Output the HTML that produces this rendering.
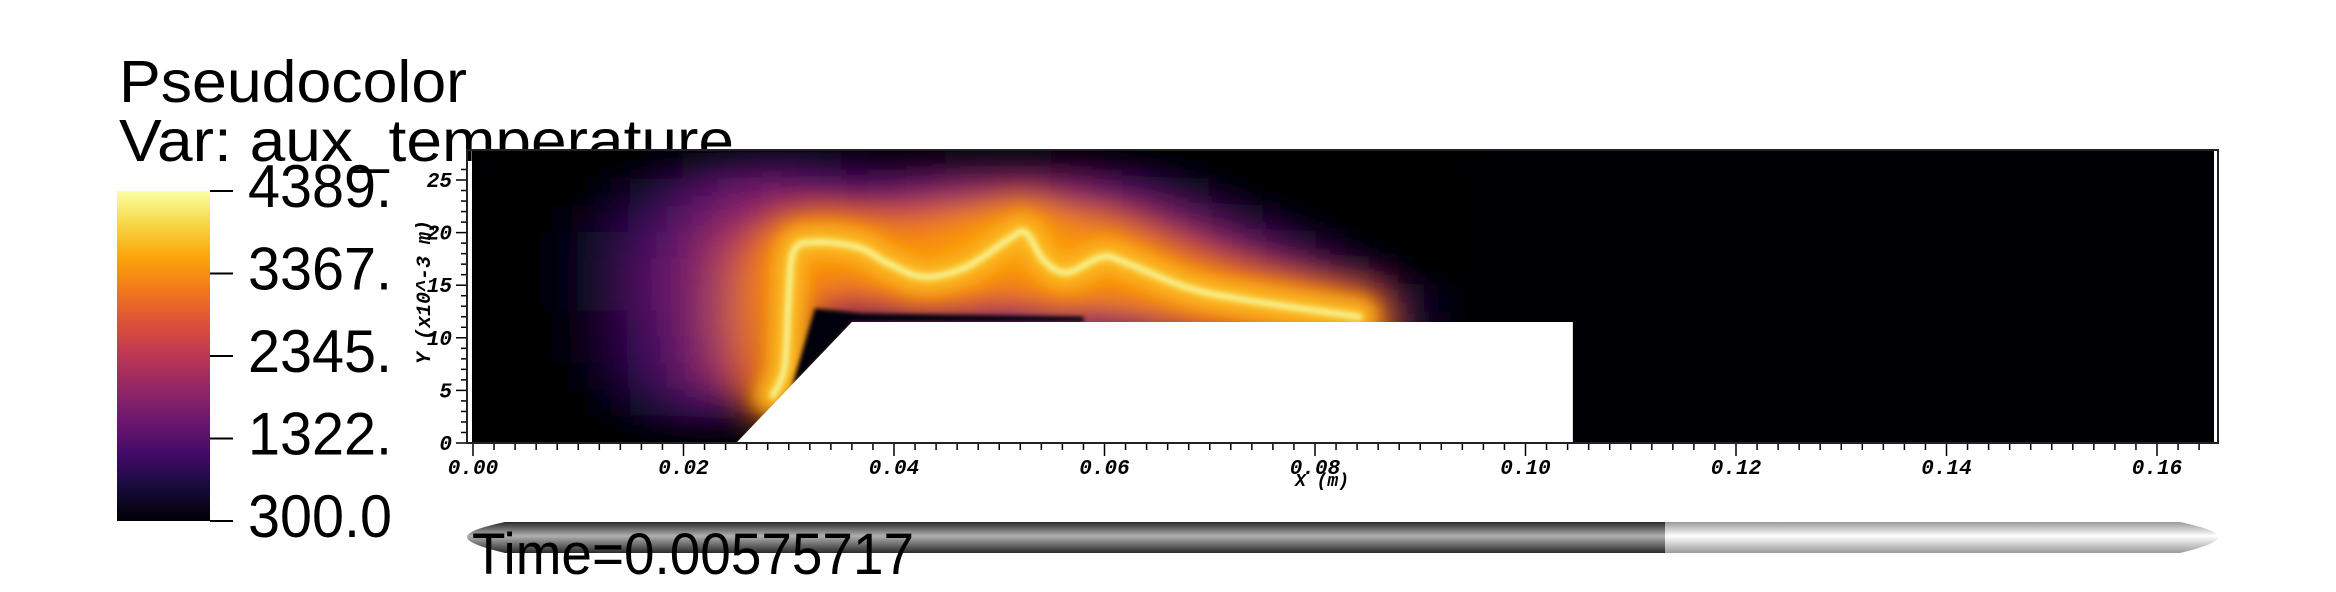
<!DOCTYPE html>
<html><head><meta charset="utf-8"><style>
html,body{margin:0;padding:0;background:#fff;}
svg{display:block;}
</style></head><body>
<svg id="chart" width="2336" height="592" viewBox="0 0 2336 592" xmlns="http://www.w3.org/2000/svg">
<defs>
  <linearGradient id="cbar" x1="0" y1="1" x2="0" y2="0">
    <stop offset="0" stop-color="#000004"/><stop offset="0.1" stop-color="#160b39"/>
    <stop offset="0.2" stop-color="#420a68"/><stop offset="0.3" stop-color="#6a176e"/>
    <stop offset="0.4" stop-color="#932667"/><stop offset="0.5" stop-color="#bc3754"/>
    <stop offset="0.6" stop-color="#dd513a"/><stop offset="0.7" stop-color="#f37819"/>
    <stop offset="0.8" stop-color="#fca50a"/><stop offset="0.9" stop-color="#f6d746"/>
    <stop offset="1" stop-color="#fcffa4"/>
  </linearGradient>
  <linearGradient id="barDark" x1="0" y1="0" x2="0" y2="1">
    <stop offset="0" stop-color="#2a2a2a"/><stop offset="0.45" stop-color="#b0b0b0"/><stop offset="1" stop-color="#2a2a2a"/>
  </linearGradient>
  <linearGradient id="barLight" x1="0" y1="0" x2="0" y2="1">
    <stop offset="0" stop-color="#9a9a9a"/><stop offset="0.45" stop-color="#ffffff"/><stop offset="1" stop-color="#9a9a9a"/>
  </linearGradient>
  <clipPath id="plotClip"><rect x="472" y="151" width="1742" height="292"/></clipPath>
  <filter id="haze" x="-10%" y="-30%" width="120%" height="160%"><feGaussianBlur stdDeviation="28 14"/></filter>
  <filter id="b20" x="-20%" y="-50%" width="140%" height="200%"><feGaussianBlur stdDeviation="16"/></filter>
  <filter id="b8" x="-20%" y="-50%" width="140%" height="200%"><feGaussianBlur stdDeviation="8"/></filter>
  <filter id="b3"><feGaussianBlur stdDeviation="3"/></filter>
  <filter id="b2"><feGaussianBlur stdDeviation="2"/></filter>
</defs>

<text x="119" y="102" font-family="Liberation Sans, sans-serif" font-size="59" textLength="348" lengthAdjust="spacingAndGlyphs">Pseudocolor</text>
<text x="119" y="161" font-family="Liberation Sans, sans-serif" font-size="59" textLength="615" lengthAdjust="spacingAndGlyphs">Var: aux_temperature</text>
<rect x="117" y="191" width="93" height="330" fill="url(#cbar)"/>
<g id="cbarTicks"></g>

<rect x="472" y="151" width="1742" height="292" fill="#000004"/>
<g clip-path="url(#plotClip)">
  <g id="heat" filter="url(#haze)"></g>
  <g id="flame"></g>
  <polygon id="block" fill="#ffffff"/>
</g>
<rect x="467" y="150" width="1751" height="293" fill="none" stroke="#222" stroke-width="2"/>
<g id="axes"></g>
<text x="1322" y="486" text-anchor="middle" font-family="Liberation Mono, monospace" font-weight="bold" font-style="italic" font-size="18">X (m)</text>
<text transform="translate(430,292) rotate(-90)" text-anchor="middle" font-family="Liberation Mono, monospace" font-weight="bold" font-style="italic" font-size="20">Y (x10^-3 m)</text>

<g>
  <path d="M1665,522 L505,522 Q467,530 467,537 Q467,544 505,553 L1665,553 Z" fill="url(#barDark)"/>
  <path d="M1665,522 L2180,522 Q2218,530 2218,537 Q2218,544 2180,553 L1665,553 Z" fill="url(#barLight)"/>
</g>
<text x="472" y="574" font-family="Liberation Sans, sans-serif" font-size="58" textLength="442" lengthAdjust="spacingAndGlyphs">Time=0.00575717</text>
</svg>

<script>
// ---- data ----
const xCenters = [0.0025,0.0075,0.0125,0.0175,0.0225,0.0275,0.0325,0.0375,0.0425,0.0475,0.0525,0.0575,0.0625,0.0675,0.0725,0.0775,0.0825,0.0875,0.0925];
const yCenters = [26.25,23.75,21.25,18.75,16.25,13.75,11.25,8.75,6.25,3.75,1.25];
const tempRows = [
 [300,300,300,300,600,900,800,500,500,600,600,500,300,300,300,300,300,300,300],
 [300,300,300,700,1300,1700,1500,1300,1600,1900,2000,1700,1100,600,300,300,300,300,300],
 [300,300,500,1000,1600,2100,2600,2500,2900,3200,3300,3000,2200,1400,700,300,300,300,300],
 [300,300,600,1200,1800,2800,3500,3400,3300,3600,3700,3500,3100,2400,1500,800,300,300,300],
 [300,300,600,1300,1900,3100,3400,3300,3500,3500,3400,3600,3400,3100,2500,1700,800,300,300],
 [300,300,600,1300,1900,3200,2800,2600,2700,2800,2900,3000,3200,3300,3200,2900,2100,700,300],
 [300,300,500,1200,1900,3200,800,900,1100,1300,1400,1600,1800,2200,2600,2900,2900,800,300],
 [300,300,500,1100,1800,3100,300,300,300,300,300,300,300,300,300,300,300,300,300],
 [300,300,400,1000,1700,2700,300,300,300,300,300,300,300,300,300,300,300,300,300],
 [300,300,300,700,1200,300,300,300,300,300,300,300,300,300,300,300,300,300,300],
 [300,300,300,300,300,300,300,300,300,300,300,300,300,300,300,300,300,300,300]
];
const flameX = [0.0285,0.0296,0.0300,0.0305,0.0326,0.0366,0.0394,0.0428,0.0468,0.0508,0.0525,0.0542,0.0564,0.0598,0.0621,0.0678,0.0734,0.0842];
const flameY = [4.5,7.2,14.0,18.3,19.1,18.6,17.1,15.8,16.7,19.3,20.0,17.4,16.2,17.7,17.1,14.8,13.6,12.0];
const blockX = [0.0250,0.0360,0.1045,0.1045];
const blockY = [0,11.5,11.5,0];
const cbarLabels = ["4389.","3367.","2345.","1322.","300.0"];
const xTickLabels = ["0.00","0.02","0.04","0.06","0.08","0.10","0.12","0.14","0.16"];
const yTickLabels = ["0","5","10","15","20","25"];
const tMin = 300, tMax = 4389;

// ---- scales ----
const sx = v => 473 + v * 10525;
const sy = v => 443 - v * 10.52;
const NS = "http://www.w3.org/2000/svg";
const stops = ["#000004","#160b39","#420a68","#6a176e","#932667","#bc3754","#dd513a","#f37819","#fca50a","#f6d746","#fcffa4"];
function hex(h){return [1,3,5].map(i=>parseInt(h.substr(i,2),16));}
function inferno(t){
  let f = Math.max(0,Math.min(1,(t-tMin)/(tMax-tMin)))*10;
  let i = Math.min(9,Math.floor(f)), u=f-i;
  let a=hex(stops[i]), b=hex(stops[i+1]);
  return "rgb("+a.map((c,k)=>Math.round(c+(b[k]-c)*u)).join(",")+")";
}
function mk(tag, attrs, parent){
  const e=document.createElementNS(NS,tag);
  for(const k in attrs) e.setAttribute(k,attrs[k]);
  parent.appendChild(e); return e;
}

// heatmap
const heat=document.getElementById('heat');
const dx=0.005, dy=2.5;
yCenters.forEach((yc,r)=>{
  xCenters.forEach((xc,c)=>{
    const x0=sx(xc-dx/2), x1=sx(xc+dx/2), y0=sy(yc+dy/2), y1=sy(yc-dy/2);
    const cell=mk('rect',{x:x0-1,y:y0-1,width:x1-x0+2,height:y1-y0+2,fill:inferno(tempRows[r][c])},heat);
    
    
  });
});
// flame front: smooth Catmull-Rom path through the data points
const fp=flameX.map((x,i)=>[sx(x),sy(flameY[i])]);
let d="M"+fp[0][0]+","+fp[0][1];
for(let i=0; i < fp.length-1; i++){
  const p0=fp[Math.max(0,i-1)],p1=fp[i],p2=fp[i+1],p3=fp[Math.min(fp.length-1,i+2)];
  const c1=[p1[0]+(p2[0]-p0[0])/6,p1[1]+(p2[1]-p0[1])/6];
  const c2=[p2[0]-(p3[0]-p1[0])/6,p2[1]-(p3[1]-p1[1])/6];
  d+=" C"+c1[0]+","+c1[1]+" "+c2[0]+","+c2[1]+" "+p2[0]+","+p2[1];
}
const flame=document.getElementById('flame');
[[70,"#f98e09",0.55,"b20"],[40,"#fca50a",0.85,"b8"],[20,"#fbbf2a",0.95,"b8"],[9,"#f9d54a",1,"b3"],[4,"#f8f29a",1,"b2"]].forEach(s=>{
  const a={d:d,fill:"none",stroke:s[1],"stroke-width":s[0],"stroke-opacity":s[2],"stroke-linejoin":"round","stroke-linecap":"round"};
  if(s[3]) a.filter="url(#"+s[3]+")";
  const l=mk('path',a,flame);
  
  
});
// dark cool layer above block and near ramp
const strip=mk('polygon',{points:sx(0.0255)+","+sy(0)+" "+sx(0.0302)+","+sy(5)+" "+sx(0.0325)+","+sy(12.8)+" "+sx(0.037)+","+sy(12.3)+" "+sx(0.058)+","+sy(12.0)+" "+sx(0.058)+","+sy(11.5)+" "+sx(0.036)+","+sy(11.5),fill:"#050208",filter:"url(#b2)"},flame);


// block
document.getElementById('block').setAttribute('points',blockX.map((x,i)=>sx(x)+","+sy(blockY[i])).join(" ")+" "+sx(0.025)+","+(sy(0)+2));

// colorbar ticks
const cbt=document.getElementById('cbarTicks');
cbarLabels.forEach((lab,i)=>{
  const y=191+i*(330/(cbarLabels.length-1));
  const t=mk('line',{x1:210,y1:y,x2:233,y2:y,stroke:"#000","stroke-width":2},cbt);
  
  
  const tx=mk('text',{x:248,y:y+16,"font-family":"Liberation Sans, sans-serif","font-size":60,textLength:144,lengthAdjust:"spacingAndGlyphs"},cbt);
  tx.textContent=lab;
  
  
});

// axes
const ax=document.getElementById('axes');
for(let k=0; k <= 83; k++){
  const v=k*0.002, x=sx(v); if(x > 2214) break;
  const major=(k%10===0);
  const t=mk('line',{x1:x,y1:444,x2:x,y2:major?456:450,stroke:"#000","stroke-width":1.5},ax);
  
  
}
xTickLabels.forEach(lab=>{
  const t=mk('text',{x:sx(parseFloat(lab)),y:474,"text-anchor":"middle","font-family":"Liberation Mono, monospace","font-weight":"bold","font-style":"italic","font-size":21},ax);
  t.textContent=lab;
  
  
});
for(let k=0; k <= 26; k++){
  const y=sy(k), major=(k%5===0);
  const t=mk('line',{x1:major?456:461,y1:y,x2:466,y2:y,stroke:"#000","stroke-width":1.5},ax);
  
  
}
yTickLabels.forEach(lab=>{
  const t=mk('text',{x:452,y:sy(parseFloat(lab))+7,"text-anchor":"end","font-family":"Liberation Mono, monospace","font-weight":"bold","font-style":"italic","font-size":21},ax);
  t.textContent=lab;
  
  
});
</script>
</body></html>
